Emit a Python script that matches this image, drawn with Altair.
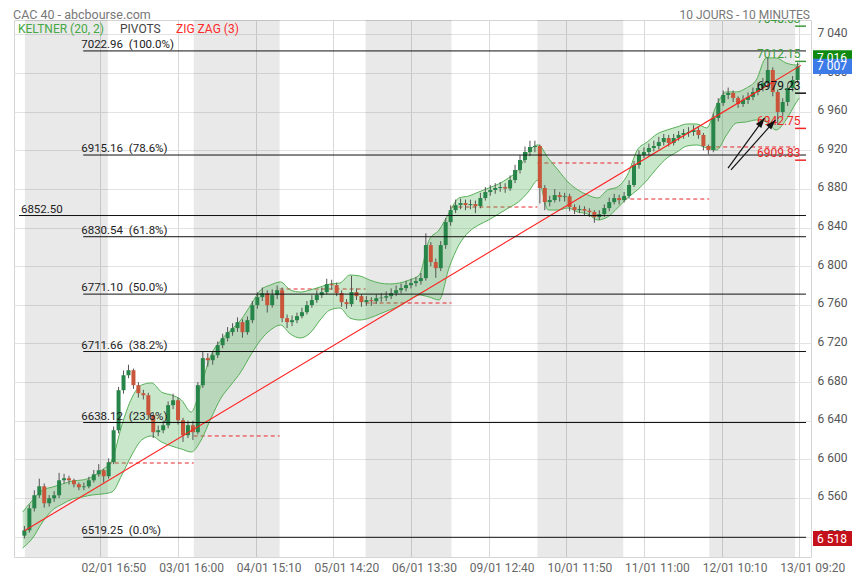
import math
import altair as alt
import pandas as pd

# ---------------- data ----------------
# 30-minute candles (3 x 10-minute bars each); candle k sits on bar 3k+1
open_first = 6521.0
closes = [6526.5, 6549.3, 6562.8, 6572.1, 6554.5, 6559.7, 6562.8, 6578.3, 6580.4, 6578.3,
          6574.2, 6571.1, 6572.0, 6578.3, 6584.5, 6588.7, 6582.5, 6597.0, 6630.1, 6671.6,
          6687.1, 6692.3, 6676.8, 6668.5, 6666.4, 6645.7, 6628.1, 6630.1, 6635.3, 6656.1,
          6661.2, 6640.5, 6625.0, 6635.3, 6628.1, 6676.8, 6704.8, 6702.7, 6707.9, 6718.2,
          6725.5, 6731.7, 6735.9, 6742.1, 6731.7, 6744.1, 6759.7, 6768.0, 6772.1, 6759.7,
          6770.1, 6775.2, 6746.2, 6742.1, 6744.1, 6748.3, 6752.4, 6759.7, 6764.9, 6770.1,
          6773.2, 6781.4, 6780.4, 6772.1, 6762.8, 6760.7, 6773.2, 6769.0, 6762.8, 6764.9,
          6763.8, 6766.9, 6767.5, 6769.0, 6772.1, 6775.2, 6777.3, 6780.4, 6782.5, 6784.6,
          6787.7, 6821.9, 6804.3, 6798.0, 6821.9, 6845.7, 6858.1, 6863.3, 6865.4, 6863.3,
          6864.4, 6862.3, 6870.6, 6876.8, 6878.9, 6881.0, 6882.0, 6880.5, 6889.2, 6899.6,
          6910.0, 6918.3, 6923.5, 6924.5, 6881.0, 6866.4, 6868.5, 6873.7, 6871.6, 6872.5,
          6861.3, 6858.1, 6859.2, 6857.5, 6856.1, 6850.9, 6854.0, 6860.2, 6866.4, 6870.6,
          6868.5, 6872.7, 6884.1, 6904.8, 6915.2, 6918.3, 6922.4, 6924.5, 6928.6, 6932.8,
          6927.6, 6932.8, 6935.9, 6938.0, 6939.0, 6941.1, 6935.9, 6924.5, 6920.3, 6953.5,
          6969.1, 6977.3, 6979.4, 6974.2, 6968.0, 6972.2, 6975.3, 6980.4, 6984.6, 6989.8,
          7003.2, 6980.4, 6959.7, 6970.1, 6984.6, 6992.9, 7007.0]
highs = [6531, 6553, 6568, 6580, 6575, 6563, 6567, 6586, 6585, 6583,
         6580, 6576, 6576, 6582, 6589, 6595, 6590, 6601, 6634, 6675,
         6692, 6698, 6694, 6680, 6672, 6669, 6648, 6635, 6640, 6660,
         6668, 6664, 6643, 6640, 6640, 6680, 6712, 6710, 6712, 6722,
         6730, 6737, 6741, 6747, 6745, 6748, 6764, 6773, 6778, 6775,
         6776, 6780, 6778, 6750, 6749, 6752, 6757, 6764, 6770, 6775,
         6778, 6787, 6786, 6783, 6775, 6766, 6790, 6777, 6771, 6769,
         6768, 6771, 6772, 6774, 6777, 6780, 6782, 6785, 6787, 6789,
         6793, 6834, 6825, 6808, 6826, 6850, 6863, 6869, 6870, 6869,
         6869, 6868, 6876, 6882, 6884, 6886, 6887, 6886, 6894, 6905,
         6915, 6924, 6930, 6930, 6926, 6884, 6873, 6880, 6877, 6876,
         6875, 6864, 6863, 6862, 6860, 6858, 6858, 6864, 6871, 6875,
         6874, 6877, 6889, 6909, 6920, 6923, 6927, 6930, 6934, 6937,
         6936, 6937, 6940, 6942, 6944, 6946, 6944, 6938, 6926, 6958,
         6974, 6982, 6985, 6982, 6976, 6977, 6980, 6985, 6990, 6995,
         7015.7, 7006, 6983, 6974, 6989, 6997, 7011]
lows = [6518, 6524, 6546, 6560, 6550, 6551, 6556, 6560, 6575, 6574,
        6571, 6568, 6568, 6570, 6576, 6582, 6576, 6580, 6595, 6627,
        6668, 6684, 6673, 6664, 6662, 6641, 6622, 6624, 6627, 6632,
        6652, 6636, 6618, 6622, 6620, 6626, 6674, 6696, 6698, 6705,
        6715, 6722, 6728, 6732, 6726, 6729, 6741, 6756, 6764, 6752,
        6757, 6766, 6742, 6736, 6738, 6741, 6746, 6750, 6757, 6762,
        6767, 6771, 6776, 6769, 6758, 6756, 6758, 6765, 6758, 6759,
        6759, 6761, 6763, 6764, 6766, 6769, 6772, 6774, 6777, 6779,
        6781, 6785, 6800, 6788, 6795, 6818, 6842, 6855, 6859, 6858,
        6859, 6855, 6860, 6868, 6873, 6875, 6877, 6876, 6878, 6886,
        6896, 6907, 6914, 6918, 6865, 6858, 6862, 6866, 6867, 6867,
        6857, 6854, 6855, 6853, 6851, 6845, 6848, 6851, 6857, 6864,
        6864, 6866, 6870, 6882, 6901, 6912, 6915, 6919, 6921, 6925,
        6924, 6925, 6930, 6932, 6934, 6935, 6932, 6920, 6916, 6918,
        6950, 6966, 6973, 6970, 6964, 6965, 6968, 6972, 6977, 6981,
        6985, 6976, 6946.3, 6955, 6966, 6981, 6990]

# Keltner (20, 2) channel, read every 6 bars
band_bars = [0, 6, 12, 18, 24, 30, 36, 42, 48, 54, 60, 66, 72, 78, 84, 90, 96, 102, 108, 114,
             120, 126, 132, 138, 144, 150, 156, 162, 168, 174, 180, 186, 192, 198, 204, 210,
             216, 222, 228, 234, 240, 246, 252, 258, 264, 270, 276, 282, 288, 294, 300, 306,
             312, 318, 324, 330, 336, 342, 348, 354, 360, 366, 372, 378, 384, 390, 396, 402,
             408, 414, 420, 426, 432, 438, 444, 450, 456, 462, 468, 470]
band_upper = [6545.5, 6557.9, 6568.2, 6571.3, 6574.5, 6577.6, 6578.6, 6581.7, 6589.0, 6599.3,
              6635.6, 6663.5, 6677.0, 6679.1, 6669.7, 6666.6, 6661.5, 6649.0, 6677.0, 6708.1,
              6723.6, 6734.0, 6744.3, 6759.9, 6775.4, 6780.6, 6783.7, 6775.4, 6773.3, 6775.4,
              6778.5, 6781.6, 6782.6, 6790.9, 6789.9, 6785.7, 6782.6, 6781.6, 6782.6, 6785.7,
              6790.9, 6827.2, 6837.5, 6855.1, 6870.7, 6872.7, 6876.9, 6881.0, 6885.2, 6891.4,
              6899.7, 6918.3, 6925.6, 6912.1, 6899.7, 6887.3, 6879.0, 6873.8, 6870.7, 6879.0,
              6882.1, 6894.5, 6920.4, 6928.7, 6937.0, 6941.1, 6944.2, 6947.3, 6947.3, 6943.2,
              6967.0, 6980.5, 6980.5, 6984.6, 6992.9, 7015.7, 7015.7, 7010.5, 7008.4, 7009.5]
band_lower = [6508.2, 6518.5, 6535.1, 6547.5, 6553.7, 6558.9, 6561.0, 6563.1, 6564.1, 6566.2,
              6583.8, 6604.5, 6620.0, 6624.2, 6618.0, 6613.8, 6610.7, 6607.6, 6620.0, 6642.8,
              6663.5, 6677.0, 6690.5, 6708.1, 6723.6, 6734.0, 6739.1, 6729.8, 6725.7, 6730.9,
              6744.3, 6754.7, 6756.7, 6746.4, 6744.3, 6746.4, 6750.5, 6754.7, 6758.8, 6765.0,
              6770.2, 6768.1, 6765.0, 6798.2, 6822.0, 6835.5, 6842.7, 6847.9, 6854.1, 6860.3,
              6866.5, 6876.9, 6889.3, 6858.2, 6858.2, 6860.3, 6856.2, 6854.1, 6847.9, 6851.0,
              6860.3, 6870.7, 6879.0, 6889.3, 6901.8, 6912.1, 6918.3, 6924.5, 6925.6, 6922.5,
              6920.4, 6935.9, 6948.4, 6949.4, 6951.5, 6949.4, 6941.1, 6951.5, 6969.1, 6974.2]

# alternate (grey) trading days, in bar units
grey_start = [1.3, 103.5, 207.5, 311.5, 415.5]
grey_end = [51.5, 155.5, 259.5, 363.5, 467.5]

# opening level of each day (red dashed)
open_start = [51.5, 103.5, 155.5, 207.5, 259.5, 311.5, 363.5, 415.5]
open_end = [103.5, 155.5, 207.5, 259.5, 311.5, 363.5, 415.5, 467.5]
open_level = [6596.2, 6624.2, 6776.4, 6761.9, 6861.3, 6906.9, 6869.6, 6923.5]

xtick_bars = [47, 94, 141, 188, 235, 282, 329, 376, 423, 470]
xtick_labels = ["02/01 16:50", "03/01 16:00", "04/01 15:10", "05/01 14:20", "06/01 13:30",
                "09/01 12:40", "10/01 11:50", "11/01 11:00", "12/01 10:10", "13/01 09:20"]
ytick_values = [6520, 6560, 6600, 6640, 6680, 6720, 6760, 6800, 6840, 6880, 6920, 6960, 7000, 7040]

fib_values = [7022.96, 6915.16, 6830.54, 6771.10, 6711.66, 6638.12, 6519.25]
fib_pcts = ["100.0%", "78.6%", "61.8%", "50.0%", "38.2%", "23.6%", "0.0%"]
ref_level = 6852.50

pivot_values = [7048.63, 7012.15, 6979.23, 6942.75, 6909.83]
pivot_colors = ["#3c9a3c", "#3c9a3c", "#111111", "#f02424", "#f02424"]

zigzag_bars = [1, 471]
zigzag_prices = [6526.0, 7008.0]

box_values = [7016, 7007, 6518]
box_labels = ["7 016", "7 007", "6 518"]
box_colors = ["#0f8a0f", "#3d7be8", "#c4101a"]

arrow_x0 = [426.9, 428.7]
arrow_y0 = [6901.7, 6899.7]
arrow_x1 = [449.0, 455.6]
arrow_y1 = [6953.5, 6951.5]

# ---------------- geometry ----------------
W, H = 797, 537
X_DOMAIN = [-2.27, 474.1]
Y_DOMAIN = [6498.85, 7055.0]
FONT = "Roboto"
xs = alt.Scale(domain=X_DOMAIN, nice=False, zero=False)
ys = alt.Scale(domain=Y_DOMAIN, nice=False, zero=False)


def X(f):
    return alt.X(f, type="quantitative", scale=xs)


def Y(f):
    return alt.Y(f, type="quantitative", scale=ys)


x_label_expr = " : ".join(f"datum.value == {b} ? '{l}'" for b, l in zip(xtick_bars, xtick_labels)) + " : ''"

x_axis = alt.Axis(values=xtick_bars, labelExpr=x_label_expr, grid=True, gridColor="#d9d9d9",
                  ticks=False, domain=False, labelFontSize=12, labelColor="#666666", labelPadding=5,
                  labelOffset=13, labelFlush=False, labelOverlap=False, title=None, labelFont=FONT)
y_axis = alt.Axis(orient="right", values=ytick_values,
                  labelExpr="replace(format(datum.value, ','), ',', ' ')",
                  grid=True, gridColor="#e3e3e3", ticks=False, domain=False,
                  labelFontSize=12, labelColor="#555555", labelPadding=6,
                  labelOffset=-2, title=None, labelFont=FONT)

# ---------------- layers ----------------
grey_df = pd.DataFrame({"s": grey_start, "e": grey_end})
days = alt.Chart(grey_df).mark_rect(color="#000000", opacity=0.085).encode(
    x=alt.X("s:Q", scale=xs, axis=x_axis),
    x2="e:Q",
    y=alt.Y("lo:Q", scale=ys, axis=y_axis),
    y2="hi:Q",
).transform_calculate(lo=str(Y_DOMAIN[0]), hi=str(Y_DOMAIN[1]))

open_df = pd.DataFrame({"s": open_start, "e": open_end, "v": open_level})
opens_layer = alt.Chart(open_df).mark_rule(color="#e8262b", strokeDash=[4, 3], strokeWidth=1).encode(
    x=X("s"), x2="e", y=Y("v"))

band_df = pd.DataFrame({"bar": band_bars, "up": band_upper, "lo": band_lower})
band_area = alt.Chart(band_df).mark_area(color="#4caf50", opacity=0.3, interpolate="monotone", clip=True).encode(
    x=X("bar"), y=Y("lo"), y2="up")
band_up = alt.Chart(band_df).mark_line(color="#58b058", strokeWidth=1, interpolate="monotone", clip=True).encode(
    x=X("bar"), y=Y("up"))
band_lo = alt.Chart(band_df).mark_line(color="#58b058", strokeWidth=1, interpolate="monotone", clip=True).encode(
    x=X("bar"), y=Y("lo"))

opens = [open_first] + closes[:-1]
cdf = pd.DataFrame({"bar": [3 * k + 1 for k in range(len(closes))], "open": opens, "close": closes,
                    "high": highs, "low": lows})
cdf["dir"] = ["up" if c >= o else "down" for o, c in zip(opens, closes)]
color_scale = alt.Scale(domain=["up", "down"], range=["#27854a", "#c9553b"])
wicks = alt.Chart(cdf).mark_rule(color="#555555", strokeWidth=1, clip=True).encode(
    x=X("bar"), y=Y("low"), y2="high")
bodies = alt.Chart(cdf).mark_bar(size=4, clip=True).encode(
    x=X("bar"), y=Y("open"), y2="close",
    color=alt.Color("dir:N", scale=color_scale, legend=None))

zz_df = pd.DataFrame({"bar": zigzag_bars, "p": zigzag_prices})
zigzag = alt.Chart(zz_df).mark_line(color="#ff2020", strokeWidth=1.1, clip=True).encode(x=X("bar"), y=Y("p"))

fib_df = pd.DataFrame({"v": fib_values, "txt": [f"{v:.2f}\u00a0\u00a0({p})" for v, p in zip(fib_values, fib_pcts)]})
fib_df["s"] = 36.6
fib_df["e"] = X_DOMAIN[1]
fib_rules = alt.Chart(fib_df).mark_rule(color="#111111", strokeWidth=1).encode(x=X("s"), x2="e", y=Y("v"))
fib_text = alt.Chart(fib_df).mark_text(align="left", baseline="alphabetic", dy=-3, dx=-2, fontSize=11.5,
                                       color="#222222", font=FONT).encode(
    x=X("s"), y=Y("v"), text="txt:N")

ref_df = pd.DataFrame({"v": [ref_level], "txt": [f"{ref_level:.2f}"], "s": [X_DOMAIN[0]], "e": [X_DOMAIN[1]], "t": [0.1]})
ref_rule = alt.Chart(ref_df).mark_rule(color="#111111", strokeWidth=1).encode(x=X("s"), x2="e", y=Y("v"))
ref_text = alt.Chart(ref_df).mark_text(align="left", baseline="alphabetic", dy=-3, dx=-2, fontSize=11.5,
                                       color="#222222", font=FONT).encode(x=X("t"), y=Y("v"), text="txt:N")

piv_df = pd.DataFrame({"v": pivot_values, "c": pivot_colors, "txt": [f"{v:.2f}" for v in pivot_values]})
piv_df["s"] = 467.5
piv_df["e"] = X_DOMAIN[1]
piv_df["t"] = 470.8
piv_rules = alt.Chart(piv_df).mark_rule(strokeWidth=1.5).encode(
    x=X("s"), x2="e", y=Y("v"), color=alt.Color("c:N", scale=None))
piv_text = alt.Chart(piv_df).mark_text(align="right", baseline="alphabetic", dy=-3, fontSize=12,
                                       font=FONT, clip=True).encode(
    x=X("t"), y=Y("v"), text="txt:N", color=alt.Color("c:N", scale=None))

ppb = W / (X_DOMAIN[1] - X_DOMAIN[0])
ppp = H / (Y_DOMAIN[1] - Y_DOMAIN[0])
arr_df = pd.DataFrame({"x0": arrow_x0, "y0": arrow_y0, "x1": arrow_x1, "y1": arrow_y1})
arr_df["ang"] = [math.degrees(math.atan2((b - a) * ppb, (d - c) * ppp))
                 for a, b, c, d in zip(arrow_x0, arrow_x1, arrow_y0, arrow_y1)]
arr_lines = alt.Chart(arr_df).mark_rule(color="#111111", strokeWidth=1.2).encode(
    x=X("x0"), x2="x1", y=Y("y0"), y2="y1")
arr_heads = alt.Chart(arr_df).mark_point(shape="M0,0L-0.42,1.25L0.42,1.25Z", filled=True, size=256,
                                         color="#111111", opacity=1).encode(
    x=X("x1"), y=Y("y1"), angle=alt.Angle("ang:Q", scale=None))

box_df = pd.DataFrame({"v": box_values, "txt": box_labels, "c": box_colors})
boxes = alt.Chart(box_df).mark_rect().encode(
    x=alt.value(W + 2), x2=alt.value(W + 41), y=Y("top"), y2="bot",
    color=alt.Color("c:N", scale=None)).transform_calculate(top="datum.v + 7.8", bot="datum.v - 7.8")
box_text = alt.Chart(box_df).mark_text(align="left", baseline="middle", fontSize=12, color="white", font=FONT).encode(
    x=alt.value(W + 6), y=Y("v"), text="txt:N")


def label(txt, x, y, color, size=12, align="left", baseline="middle"):
    return alt.Chart(pd.DataFrame({"t": [txt]})).mark_text(
        align=align, baseline=baseline, fontSize=size, color=color, font=FONT).encode(
        x=alt.value(x), y=alt.value(y), text="t:N")


titles = [
    label("CAC 40 - abcbourse.com", -1, -1, "#777777", 12.5, baseline="alphabetic"),
    label("10 JOURS - 10 MINUTES", W - 1, -1, "#777777", 12, align="right", baseline="alphabetic"),
    label("KELTNER (20, 2)", 4, 9, "#45a845"),
    label("PIVOTS", 106, 9, "#444444"),
    label("ZIG ZAG (3)", 162, 9, "#ff2a2a"),
]

chart = alt.layer(
    days, opens_layer, band_area, band_up, band_lo, wicks, bodies, zigzag,
    fib_rules, fib_text, ref_rule, ref_text, piv_rules, piv_text,
    arr_lines, arr_heads, boxes, box_text, *titles
).properties(
    width=W, height=H,
    padding={"left": 6, "top": 12, "right": 41, "bottom": 22},
    autosize=alt.AutoSizeParams(type="none"),
).configure(font=FONT).configure_view(stroke="#d4d4d4", strokeWidth=1)

chart.save("out.html", embed_options={"renderer": "svg", "actions": False})
